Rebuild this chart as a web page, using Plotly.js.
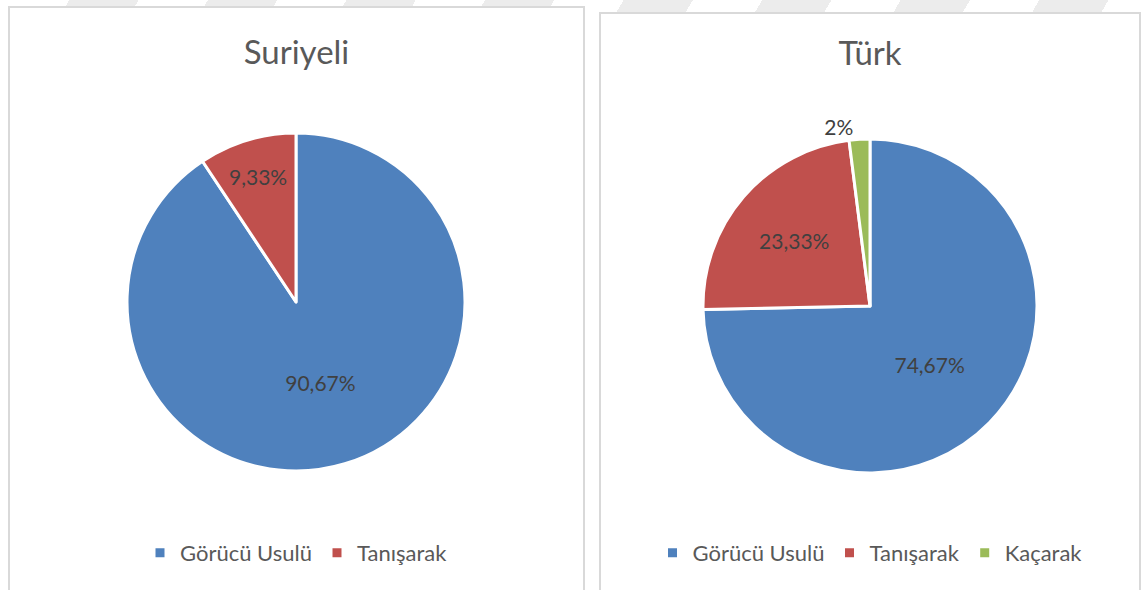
<!DOCTYPE html>
<html>
<head>
<meta charset="utf-8">
<script src="https://cdn.plot.ly/plotly-3.0.1.min.js"></script>
<style>
  html, body { margin: 0; padding: 0; background: #ffffff; overflow: hidden; }
  body { width: 1141px; height: 590px; position: relative;
    background: repeating-linear-gradient(120deg, #ffffff 0px, #ffffff 60px, #ececec 60px, #ececec 120px) top left / 1141px 14px no-repeat, #ffffff; }
  .box { position: absolute; background: #ffffff; border: 2px solid #d9d9d9; box-sizing: border-box; }
  #left { left: 8px; top: 6px; width: 577px; height: 600px; }
  #right { left: 599px; top: 12px; width: 542px; height: 600px; }
</style>
</head>
<body>
<div id="left" class="box"></div>
<div id="right" class="box"></div>
<script>
const leftTitle = "Suriyeli";
const rightTitle = "Türk";
const leftLabels = ["Görücü Usulü", "Tanışarak"];
const leftValues = [90.67, 9.33];
const rightLabels = ["Görücü Usulü", "Tanışarak", "Kaçarak"];
const rightValues = [74.67, 23.33, 2];
const sliceColors = ["#4f81bd", "#c0504d", "#9bbb59"];

const FONT = "Lato, 'Open Sans', sans-serif";
function fmt(v) { return String(v).replace('.', ',') + '%'; }

function makePie(divId, title, labels, values, w, h, cx, cy, r, titleY, legendY) {
  const trace = {
    type: 'pie',
    labels: labels,
    values: values,
    text: values.map(fmt),
    textinfo: 'text',
    hoverinfo: 'label+text',
    sort: false,
    direction: 'clockwise',
    rotation: 0,
    marker: { colors: sliceColors.slice(0, labels.length), line: { color: '#ffffff', width: 3 } },
    textfont: { family: FONT, size: 21, color: '#404040' },
    insidetextfont: { family: FONT, size: 21, color: '#404040' },
    outsidetextfont: { family: FONT, size: 21, color: '#404040' },
    insidetextorientation: 'horizontal',
    textposition: values.map(v => v < 5 ? 'outside' : 'inside'),
    automargin: false,
    domain: { x: [(cx - r) / w, (cx + r) / w], y: [(h - cy - r) / h, (h - cy + r) / h] }
  };
  const layout = {
    width: w, height: h,
    margin: { l: 0, r: 0, t: 0, b: 0 },
    paper_bgcolor: '#ffffff',
    font: { family: FONT, color: '#595959' },
    title: { text: title, x: 0.5, xanchor: 'center', y: 1 - titleY / h, yanchor: 'middle', yref: 'container',
             font: { family: FONT, size: 33, color: '#595959' } },
    showlegend: true,
    legend: { orientation: 'h', x: 0.5, xanchor: 'center', y: 1 - legendY / h, yanchor: 'middle',
              font: { family: FONT, size: 22, color: '#595959' }, traceorder: 'normal' }
  };
  Plotly.newPlot(divId, [trace], layout, { displayModeBar: false, staticPlot: true });
}

makePie('left', leftTitle, leftLabels, leftValues, 573, 596, 286, 294, 169, 44, 545);
makePie('right', rightTitle, rightLabels, rightValues, 538, 596, 269, 292, 167, 39, 539);
</script>
</body>
</html>
